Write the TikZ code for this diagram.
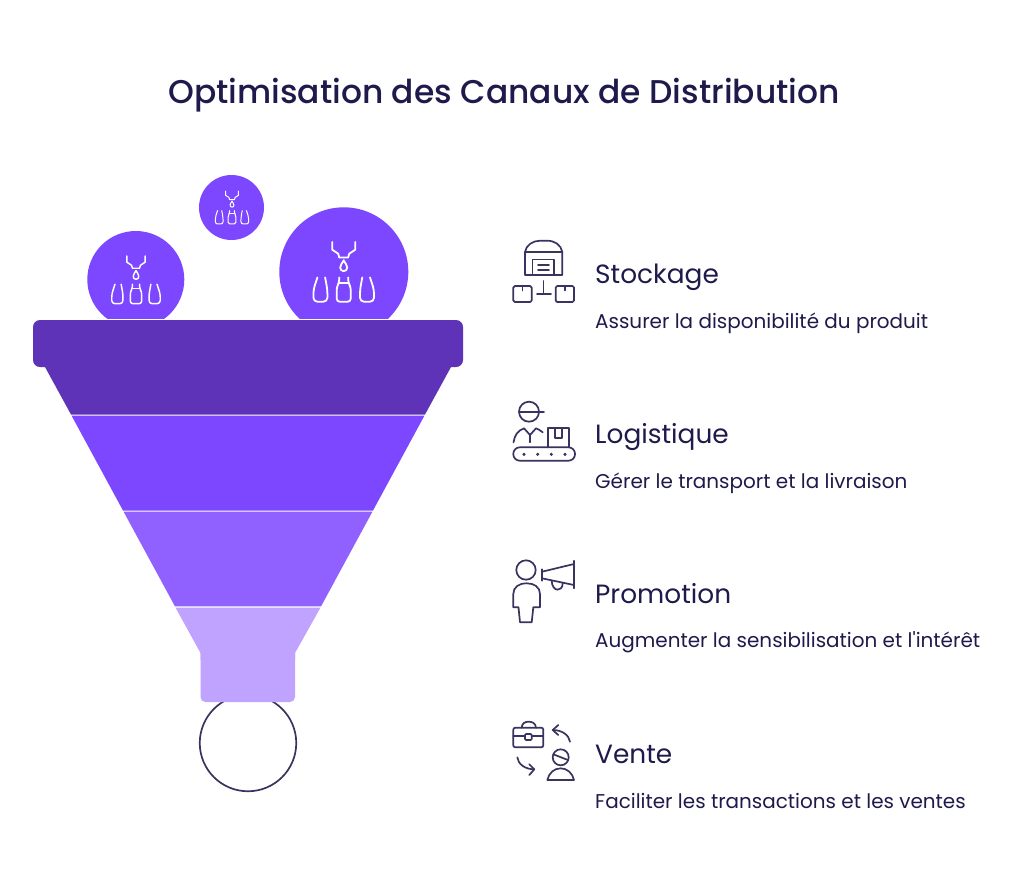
\documentclass[tikz,border=0pt]{standalone}
\usepackage{fontspec}
\setmainfont{Poppins}
\newfontfamily\medfont{Poppins}[UprightFont=* Medium]
\newfontfamily\aposfont{Poppins}
\usepackage{tikz}
\definecolor{navy}{HTML}{1E1A4B}
\definecolor{iconnavy}{HTML}{38345F}
\definecolor{lipviolet}{HTML}{5F33B8}
\definecolor{bandviolet}{HTML}{7C47FF}
\definecolor{midviolet}{HTML}{9161FF}
\definecolor{lightviolet}{HTML}{C0A2FF}
\tikzset{
  headtext/.style={anchor=base west,inner sep=0pt,text=navy,font=\fontsize{26.4}{30}\selectfont},
  subtext/.style={anchor=base west,inner sep=0pt,text=navy,font=\fontsize{19.95}{24}\selectfont},
  iconline/.style={draw=iconnavy,line width=1.7pt,line cap=round,line join=round},
  bottleline/.style={draw=white,line cap=round,line join=round},
}
\newcommand{\bottleicon}[3]{%
  \begin{scope}[shift={(#1,#2)},scale=#3,bottleline,line width={#3*1.8pt}]
    \draw[] (-11.5,-24.7) -- (-11.5,-17) -- (-5.5,-13) -- (-4.5,-9.3) -- (4.5,-9.3) -- (5.5,-13) -- (11.5,-17) -- (11.5,-24.7);
    \draw[] (0,-6.5) .. controls (-1.5,-3) and (-3.5,-2) .. (-3.5,1) .. controls (-3.5,5.5) and (3.5,5.5) .. (3.5,1) .. controls (3.5,-2) and (1.5,-3) .. (0,-6.5);
    \draw[rounded corners={#3*4pt}] (-26.3,10.7) -- (-30.3,23) -- (-30.3,35) -- (-16.3,35) -- (-16.3,23) -- (-18.6,10.7);
    \draw[rounded corners={#3*3pt}] (-4.5,10.7) -- (-4.5,16) -- (-7,20) -- (-7,35) -- (7,35) -- (7,20) -- (4.5,16) -- (4.5,10.7);
    \draw[] (-4.5,16) -- (4.5,16);
    \draw[rounded corners={#3*4pt}] (18.6,10.7) -- (16.3,23) -- (16.3,35) -- (30.3,35) -- (30.3,23) -- (26.3,10.7);
  \end{scope}}
\begin{document}
\begin{tikzpicture}[x=1pt,y=-1pt]
  \useasboundingbox (0,0) rectangle (1024,879);
  \fill[white] (0,0) rectangle (1024,879);
  %
  % TITLE
  \node[anchor=base,inner sep=0pt,text=navy,font=\medfont\fontsize{32.9}{40}\selectfont] (title) at (504,103) {Optimisation des Canaux de Distribution};
  %
  % CIRCLES
  \fill[bandviolet] (231.5,207.5) circle (32.5);
  \fill[bandviolet] (135.8,279.5) circle (48.5);
  \fill[bandviolet] (343.8,271.8) circle (64.5);
  \bottleicon{232}{204.7}{0.55}
  \bottleicon{136}{275.7}{0.8}
  \bottleicon{343.7}{266.7}{1}
  \draw[iconnavy,line width=1.7pt] (248,743) circle (48.25);
  %
  % FUNNEL
  \fill[white] (33,318.5) rectangle (463,320);
  \fill[lipviolet,rounded corners=7pt] (33,320) rectangle (463,367);
  \fill[lipviolet] (45,360) -- (451,360) -- (451,367) -- (425,414.5) -- (71,414.5) -- (45,367) -- cycle;
  \fill[bandviolet] (71.6,415.7) -- (424.4,415.7) -- (373,510.5) -- (123,510.5) -- cycle;
  \fill[midviolet] (123.6,511.7) -- (372.4,511.7) -- (321,606.4) -- (175,606.4) -- cycle;
  \fill[lightviolet,rounded corners=5pt] (200.5,640) -- (200.5,702) -- (295,702) -- (295,640) -- cycle;
  \fill[lightviolet] (175.5,607.6) -- (320.5,607.6) -- (295,653) -- (295,660) -- (200.5,660) -- (200.5,653) -- cycle;
  %
  % STOCKAGE
  \node[headtext] (stockage) at (595,283) {Stockage};
  \node[subtext] (stockagesub) at (595,328) {Assurer la disponibilité du produit};
  \draw[iconline] (525,275) -- (525,252) .. controls (526,245) and (533,240.7) .. (540,240.7) -- (547,240.7) .. controls (555,240.7) and (561,245) .. (562.3,252) -- (562.3,275) -- cycle;
  \draw[iconline] (525,252) -- (562.3,252);
  \draw[iconline] (532.5,275) -- (532.5,259.5) -- (554,259.5) -- (554,275);
  \draw[iconline] (538,265) -- (549,265);
  \draw[iconline] (538,270) -- (549,270);
  \draw[iconline] (543.5,281) -- (543.5,294);
  \draw[iconline] (537,294) -- (551,294);
  \draw[iconline,rounded corners=1.5pt] (513.3,286) rectangle (531.7,302);
  \draw[iconline] (522.5,286) -- (522.5,290.5);
  \draw[iconline,rounded corners=1.5pt] (555.7,286) rectangle (574,302);
  \draw[iconline] (565,286) -- (565,290.5);
  %
  % LOGISTIQUE
  \node[headtext] (logistique) at (595,443) {Logistique};
  \node[subtext] (logistiquesub) at (595,488) {Gérer le transport et la livraison};
  \draw[iconline] (529,411.7) circle (10);
  \draw[iconline] (519,411.7) -- (544,411.7);
  \draw[iconline] (513.5,442.3) .. controls (514.5,435) and (518,430.5) .. (524,428.3) -- (530,435) -- (536,428.3) .. controls (538,429) and (540.5,430.5) .. (542.7,432.3);
  \draw[iconline] (530,435) -- (530,442.3);
  \draw[iconline] (547.7,447.3) -- (547.7,428.3) -- (569.3,428.3) -- (569.3,447.3);
  \draw[iconline] (555,428.3) -- (555,438.3) -- (562.3,438.3) -- (562.3,428.3);
  \draw[iconline,rounded corners=6.5pt] (513.3,447.3) rectangle (575,460.7);
  \fill[iconnavy] (524,454.3) circle (1.7);
  \fill[iconnavy] (537.7,454.3) circle (1.7);
  \fill[iconnavy] (551.3,454.3) circle (1.7);
  \fill[iconnavy] (565,454.3) circle (1.7);
  %
  % PROMOTION
  \node[headtext] (promotion) at (595,603) {Promotion};
  \node[subtext] (promotionsub) at (595,647) {Augmenter la sensibilisation et l{\aposfont '}intérêt};
  \draw[iconline] (526,570) circle (9.7);
  \draw[iconline] (513.3,607.3) -- (513.3,594) .. controls (513.3,587) and (519,583.3) .. (526.7,583.3) .. controls (534,583.3) and (540,587) .. (540,594) -- (540,607.3) -- (533.3,607.3) -- (531.7,622.3) -- (520,622.3) -- (518.5,607.3) -- cycle;
  \draw[iconline] (542,569.3) -- (542,580.7);
  \draw[iconline] (542,571.7) -- (574,564);
  \draw[iconline] (542,578.3) -- (574,585);
  \draw[iconline] (574,560.7) -- (574,588.3);
  \draw[iconline] (551.7,580.7) .. controls (552,592) and (562.5,592.5) .. (562.7,583.3);
  %
  % VENTE
  \node[headtext] (vente) at (595,763) {Vente};
  \node[subtext] (ventesub) at (595,808) {Faciliter les transactions et les ventes};
  \draw[iconline,rounded corners=2pt] (513.3,727.7) rectangle (543.3,747.3);
  \draw[iconline] (513.3,735.7) -- (525,735.7);
  \draw[iconline] (531.7,735.7) -- (543.3,735.7);
  \draw[iconline,rounded corners=1pt] (525,734) rectangle (531.7,740);
  \draw[iconline] (521.7,727.7) .. controls (522,723) and (525,721.7) .. (528.7,721.7) .. controls (532,721.7) and (535.7,723) .. (536,727.7);
  \draw[iconline] (570,741.7) .. controls (569,735) and (562,730) .. (552.7,730);
  \draw[iconline] (558.3,725) -- (552.7,730) -- (558.3,735);
  \draw[iconline] (517.3,757.3) .. controls (518,764) and (525,769.3) .. (534.3,769.3);
  \draw[iconline] (529.3,764.3) -- (534.3,769.3) -- (529.3,775);
  \draw[iconline] (560.7,757.3) circle (8);
  \draw[iconline] (553.3,754.3) -- (568,760);
  \draw[iconline] (547.3,780) .. controls (549,773) and (554,768.3) .. (560.7,768.3) .. controls (567,768.3) and (572.5,773) .. (574,780) -- cycle;
  %
\end{tikzpicture}
\end{document}
